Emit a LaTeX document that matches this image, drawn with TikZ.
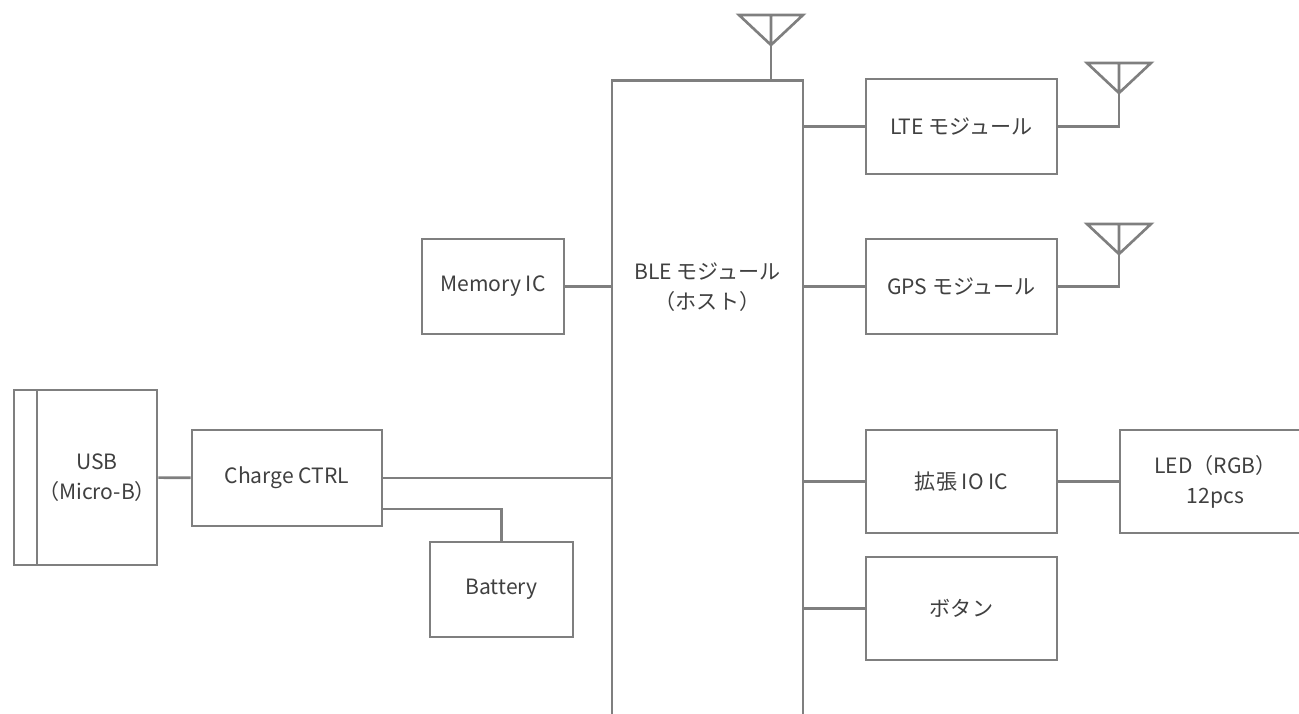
\documentclass[tikz,border=0pt]{standalone}
\usepackage{fontspec}
\setmainfont{Noto Sans CJK JP}
\usepackage{xcolor}
\usepackage{tikz}
\usetikzlibrary{positioning,calc}
\definecolor{linegray}{HTML}{7F7F7F}
\definecolor{textgray}{HTML}{404040}

\begin{document}
\begin{tikzpicture}
 \tikzset{block/.style={rectangle, draw=linegray, line width=1.5pt, fill=white, text=textgray, align=center, minimum width=3.82cm, minimum height=1.9cm, font=\fontsize{12}{17}\selectfont},
  wire/.style={draw=linegray, line width=1.5pt}};
  \useasboundingbox (0,0) rectangle (25.98,-14.26);
  \node[block, anchor=north, minimum height=13.4cm] (ble) at (14.15,-1.58) {};
  \node[text=textgray, align=center, font=\fontsize{12}{17}\selectfont] (blelabel) at (14.15,-5.74) {BLE モジュール\\（ホスト）};
  \node[block] (lte) at (19.23,-2.53) {LTE モジュール};
  \node[block] (gps) at (19.23,-5.73) {GPS モジュール};
  \node[block, minimum height=2.06cm] (ioic) at (19.23,-9.63) {拡張 IO IC};
  \node[block, minimum height=2.06cm] (button) at (19.23,-12.17) {ボタン};
  \node[block, minimum height=2.06cm] (led) at (24.31,-9.63) {LED（RGB）\\12pcs};
  \node[block, minimum width=2.84cm] (memory) at (9.86,-5.73) {Memory IC};
  \node[block, minimum width=3.8cm, minimum height=1.92cm] (charge) at (5.74,-9.56) {Charge CTRL};
  \node[block, minimum width=2.86cm] (battery) at (10.03,-11.79) {Battery};
  \node[block, inner sep=0pt, minimum width=2.4cm, minimum height=3.5cm] (usb) at (1.94,-9.55) {USB\\（Micro-B）};
  \node[block, inner sep=0pt, minimum width=0.46cm, minimum height=3.5cm] (plug) at (0.51,-9.55) {};
  % antennas
  \coordinate (ant1) at (15.42,-0.9);
  \coordinate (ant2) at (22.38,-1.86);
  \coordinate (ant3) at (22.38,-5.08);
  \foreach \a in {ant1,ant2,ant3}
    \draw[wire, line join=miter] (\a) -- ++(-0.64,0.6) -- ++(1.28,0) -- cycle (\a) -- ++(0,0.6);
  \draw[wire] (ble.north -| ant1) -- (ant1);
  \draw[wire] (lte.east) -| (ant2);
  \draw[wire] (gps.east) -| (ant3);
  % connections
  \draw[wire] (lte.west) -- (lte.west -| ble.east);
  \draw[wire] (gps.west) -- (gps.west -| ble.east);
  \draw[wire] (ioic.west) -- (ioic.west -| ble.east);
  \draw[wire] (button.west) -- (button.west -| ble.east);
  \draw[wire] (ioic) -- (led);
  \draw[wire] (memory) -- (memory.east -| ble.west);
  \draw[wire] (usb) -- (charge);
  \draw[wire] (charge.east) -- (charge.east -| ble.west);
  \draw[wire] ([yshift=-0.62cm]charge.east) -| (battery.north);
\end{tikzpicture}
\end{document}
